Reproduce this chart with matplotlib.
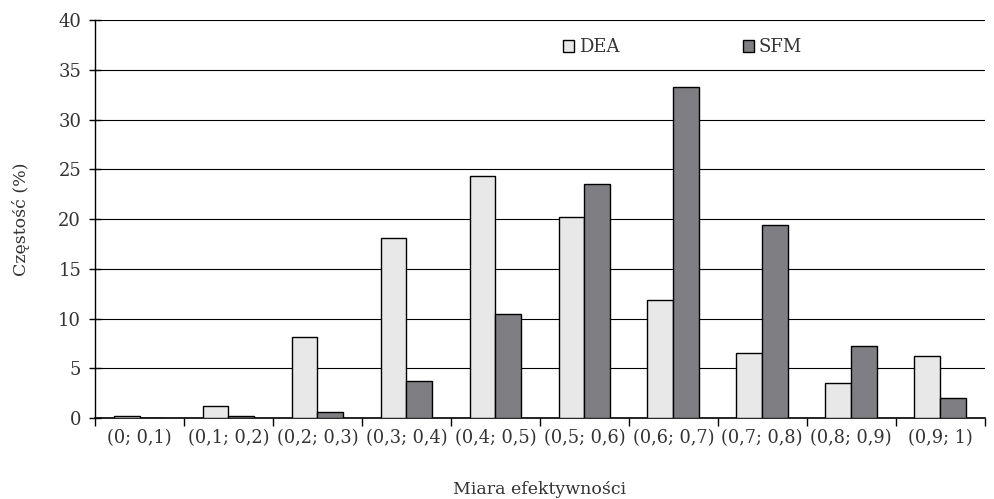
import matplotlib.pyplot as plt
import numpy as np

plt.rcParams['font.family'] = ['DejaVu Serif']

categories = ['(0; 0,1)', '(0,1; 0,2)', '(0,2; 0,3)', '(0,3; 0,4)', '(0,4; 0,5)',
              '(0,5; 0,6)', '(0,6; 0,7)', '(0,7; 0,8)', '(0,8; 0,9)', '(0,9; 1)']
dea = [0.2, 1.2, 8.2, 18.1, 24.3, 20.2, 11.9, 6.5, 3.5, 6.2]
sfm = [0.0, 0.2, 0.6, 3.7, 10.5, 23.5, 33.3, 19.4, 7.2, 2.0]

fig = plt.figure(figsize=(9.94, 4.99), dpi=100)
ax = fig.add_axes([0.0956, 0.162, 0.895, 0.798])

x = np.arange(len(categories))
w = 0.29
ax.bar(x - w / 2, dea, w, color='#e8e8e8', edgecolor='black', linewidth=1, label='DEA', zorder=3)
ax.bar(x + w / 2, sfm, w, color='#7f7f83', edgecolor='black', linewidth=1, label='SFM', zorder=3)

ax.set_xlim(-0.5, len(categories) - 0.5)
ax.set_ylim(0, 40)
ax.set_yticks(range(0, 41, 5))
ax.yaxis.grid(True, color='black', linewidth=0.8, zorder=0)
ax.set_axisbelow(True)

txt = '#333333'
ax.set_xticks(x)
ax.set_xticklabels(categories, fontsize=12.8, color=txt)
ax.set_xticks(np.arange(-0.5, len(categories)), minor=True)
ax.tick_params(axis='x', which='major', length=0, pad=8)
ax.tick_params(axis='x', which='minor', length=6, direction='out', width=1)
ax.tick_params(axis='y', length=8, direction='inout', width=1, labelsize=13, labelcolor=txt, pad=6)

for s in ['top', 'right']:
    ax.spines[s].set_visible(False)
ax.spines['left'].set_linewidth(1)
ax.spines['bottom'].set_linewidth(1.2)

ax.set_ylabel('Częstość (%)', fontsize=12.5, color=txt, labelpad=20)
ax.set_xlabel('Miara efektywności', fontsize=12.5, color=txt, labelpad=24)

ax.legend(loc='upper left', bbox_to_anchor=(0.508, 0.995), ncol=2, frameon=False,
          fontsize=13, handlelength=0.6, handleheight=0.6, handletextpad=0.3,
          columnspacing=6.8, labelcolor=txt)

fig.savefig('out.png', dpi=100)
